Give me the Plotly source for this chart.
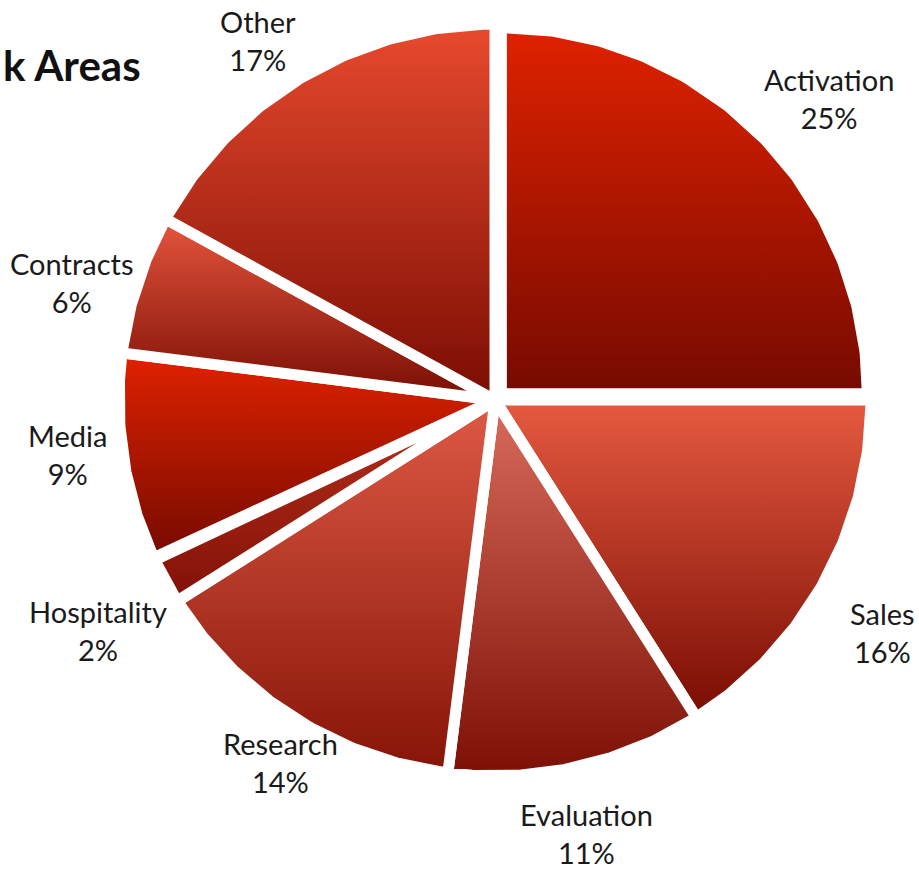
import numpy as np
import plotly.graph_objects as go

# Share of work by area (percent), clockwise from 12 o'clock
categories = ["Activation", "Sales", "Evaluation", "Research",
              "Hospitality", "Media", "Contracts", "Other"]
shares = [25, 16, 11, 14, 2, 9, 6, 17]

# Per-slice vertical gradient: light top colour -> dark bottom colour
top_colors = ["#E02200", "#E65A40", "#DA6C5C", "#DE5A45",
              "#B8321E", "#E02200", "#E5553D", "#E84A2E"]
bottom_colors = ["#760A00", "#780C02", "#7C1005", "#861407",
                 "#821006", "#760A00", "#780D03", "#7A0C02"]

W, H = 919, 872
CX, CY = 495, 400          # pie centre (pixels from top-left)
R = 376                    # pie radius in pixels
GAP = 11                   # white separation between slices
explode = {"Activation": 9}          # offset of the highlighted slice
radius_override = {"Activation": 366}
# label placement: (distance from centre, angular nudge in degrees)
label_place = {
    "Activation": (450, -2.9), "Sales": (452, -2.1),
    "Evaluation": (443, -0.7), "Research": (421, 1.8),
    "Hospitality": (459, 1.3), "Media": (431, -1.7),
    "Contracts": (439, 2.5), "Other": (431, 2.8),
}
FONT = "Lato, 'Open Sans', sans-serif"

fig = go.Figure()
total = float(sum(shares))
acc = 0.0
for name, val, c_top, c_bot in zip(categories, shares, top_colors, bottom_colors):
    a0 = acc / total * 360.0
    a1 = (acc + val) / total * 360.0
    acc += val
    # clockwise angle from 12 o'clock -> standard math angle
    theta = np.radians(90.0 - np.linspace(a0, a1, 160))
    mid_deg = 90.0 - (a0 + a1) / 2.0
    mid = np.radians(mid_deg)
    off = explode.get(name, 0)
    rad = radius_override.get(name, R)
    ox, oy = off * np.cos(mid), off * np.sin(mid)
    xs = np.concatenate([[ox], ox + rad * np.cos(theta), [ox]])
    ys = np.concatenate([[oy], oy + rad * np.sin(theta), [oy]])
    fig.add_trace(go.Scatter(
        x=xs, y=ys, mode="lines", fill="toself",
        line=dict(color="white", width=GAP),
        fillgradient=dict(type="vertical",
                          colorscale=[[0, c_bot], [1, c_top]]),
        hoverinfo="skip", showlegend=False,
    ))
    dist, nudge = label_place[name]
    la = np.radians(mid_deg + nudge)
    fig.add_annotation(
        x=dist * np.cos(la), y=dist * np.sin(la),
        text=f"{name}<br>{val}%", showarrow=False,
        font=dict(family=FONT, size=29, color="#1a1a1a"),
        xanchor="center", yanchor="middle",
    )

fig.add_annotation(
    x=1 - CX, y=CY - 65, text="<b>k Areas</b>", showarrow=False,
    xanchor="left", yanchor="middle",
    font=dict(family=FONT, size=42, color="#111111"),
)

fig.update_layout(
    width=W, height=H,
    margin=dict(l=0, r=0, t=0, b=0),
    paper_bgcolor="white", plot_bgcolor="white",
    xaxis=dict(range=[-CX, W - CX], visible=False, fixedrange=True),
    yaxis=dict(range=[-(H - CY), CY], visible=False, fixedrange=True),
    showlegend=False,
)

fig.write_html("out.html")
